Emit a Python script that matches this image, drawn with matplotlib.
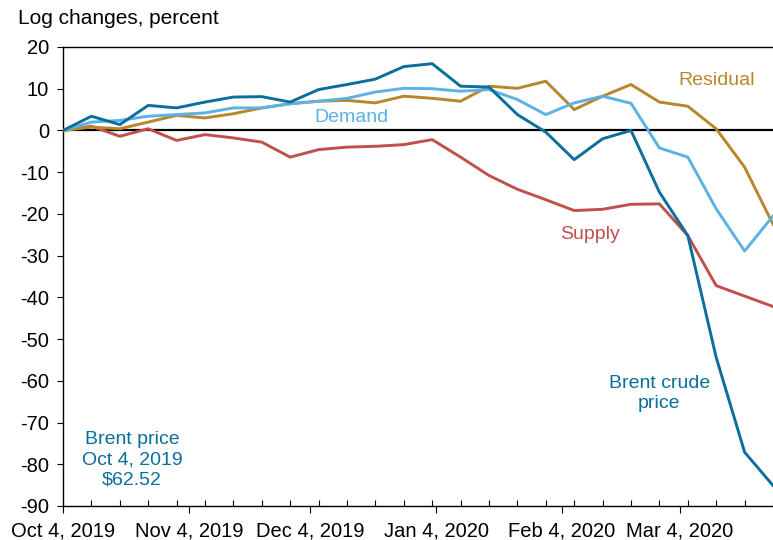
import numpy
import pandas
import matplotlib
matplotlib.use("Agg")
import matplotlib.pyplot as plt

plt.rcParams["font.family"] = ["Liberation Sans", "DejaVu Sans"]
plt.rcParams["axes.unicode_minus"] = False

# weekly dates, fridays
dates = pandas.date_range("2019-10-04", periods=26, freq="7D")

# log changes since Oct 4, 2019, percent
brent = [0, 3.4, 1.4, 6.0, 5.4, 6.8, 8.0, 8.1, 6.8, 9.8, 11.0, 12.3, 15.3, 16.0,
         10.6, 10.4, 3.8, -0.4, -7.0, -2.0, 0.0, -14.8, -25.2, -54.4, -77.1, -85.1]
demand = [0, 2.0, 2.4, 3.4, 3.8, 4.2, 5.4, 5.4, 6.4, 7.0, 7.7, 9.2, 10.1, 10.0,
          9.4, 9.8, 7.4, 3.8, 6.6, 8.2, 6.5, -4.2, -6.4, -18.8, -28.9, -20.5]
supply = [0, 1.0, -1.4, 0.4, -2.4, -1.0, -1.8, -2.8, -6.4, -4.6, -4.0, -3.8, -3.4, -2.2,
          -6.4, -10.8, -14.1, -16.6, -19.2, -18.9, -17.7, -17.6, -25.2, -37.2, -39.7, -42.2]
residual = [0, 0.8, 0.4, 2.0, 3.6, 3.0, 4.0, 5.4, 6.4, 7.0, 7.2, 6.6, 8.2, 7.7,
            7.0, 10.6, 10.1, 11.8, 5.0, 8.2, 11.0, 6.8, 5.8, 0.4, -8.8, -22.5]

major_dates = pandas.to_datetime(["2019-10-04", "2019-11-04", "2019-12-04",
                                  "2020-01-04", "2020-02-04", "2020-03-04"])
major_labels = ["Oct 4, 2019", "Nov 4, 2019", "Dec 4, 2019",
                "Jan 4, 2020", "Feb 4, 2020", "Mar 4, 2020"]

c_brent = "#0b6e9c"
c_demand = "#5cb2e6"
c_supply = "#c0504d"
c_resid = "#b8862c"

fig = plt.figure(figsize=(7.73, 5.40), dpi=100)
ax = fig.add_axes([0.0815, 0.063, 0.9185, 0.85])

# zero line
ax.axhline(0, color="k", lw=1.6, zorder=1)

lw = 2.1
ax.plot(dates, supply, color=c_supply, lw=lw, zorder=2)
ax.plot(dates, residual, color=c_resid, lw=lw, zorder=3)
ax.plot(dates, demand, color=c_demand, lw=lw, zorder=4)
ax.plot(dates, brent, color=c_brent, lw=lw, zorder=5)

ax.set_xlim(dates[0], dates[-1])
ax.set_ylim(-90, 20)

# ticks
ax.set_yticks(numpy.arange(-90, 21, 10))
ax.tick_params(axis="y", direction="out", length=4, width=0.8, labelsize=14.5, pad=6)
ax.set_xticks(major_dates)
ax.set_xticklabels(major_labels)
ax.set_xticks(dates, minor=True)
ax.tick_params(axis="x", which="major", direction="out", length=5, width=0.8,
               labelsize=14.5, pad=6)
ax.tick_params(axis="x", which="minor", direction="in", length=4, width=0.8)

for s in ["left", "bottom", "top"]:
    ax.spines[s].set_linewidth(1.0)
ax.spines["right"].set_visible(False)

# labels
fig.text(0.023, 0.965, "Log changes, percent", fontsize=15, ha="left", va="center")

ax.text(pandas.Timestamp("2019-12-05"), 3.0, "Demand", color=c_demand, fontsize=14, ha="left", va="center")
ax.text(pandas.Timestamp("2020-03-13"), 12.0, "Residual", color=c_resid, fontsize=14, ha="center", va="center")
ax.text(pandas.Timestamp("2020-02-11"), -25, "Supply", color=c_supply, fontsize=14, ha="center", va="center")
ax.text(pandas.Timestamp("2020-02-28"), -63, "Brent crude\nprice", color=c_brent, fontsize=14,
        ha="center", va="center", linespacing=1.25)
ax.text(pandas.Timestamp("2019-10-21"), -79, "Brent price\nOct 4, 2019\n$62.52", color=c_brent,
        fontsize=14, ha="center", va="center", linespacing=1.25)

fig.savefig("out.png", dpi=100)
